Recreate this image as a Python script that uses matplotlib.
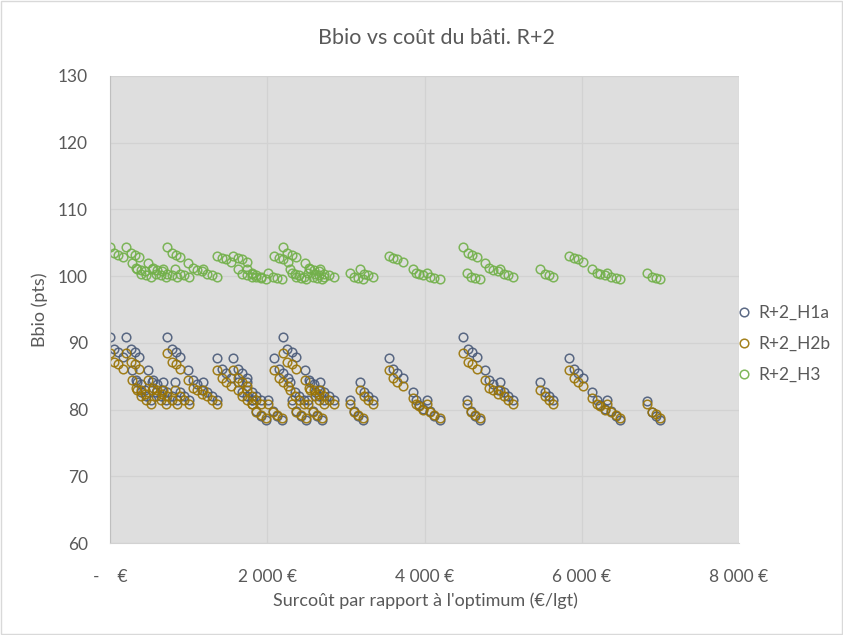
import matplotlib
matplotlib.use("Agg")
import matplotlib.pyplot as plt
from matplotlib.patches import Rectangle

plt.rcParams["font.family"] = ["Lato", "DejaVu Sans"]

# surcoût (€/lgt), one row per group of four variants
surcout = [
    0, 51, 106, 161,
    204, 267, 318, 373,
    276, 333, 389, 450,
    343, 400, 456, 519,
    487, 544, 600, 663,
    534, 591, 647, 710,
    674, 731, 787, 850,
    721, 784, 840, 896,
    827, 884, 940, 1003,
    996, 1053, 1109, 1172,
    1183, 1240, 1296, 1359,
    1365, 1428, 1480, 1541,
    1561, 1624, 1679, 1738,
    1628, 1685, 1741, 1804,
    1743, 1800, 1856, 1919,
    1806, 1863, 1919, 1990,
    2010, 2067, 2123, 2190,
    2086, 2149, 2201, 2262,
    2204, 2255, 2310, 2366,
    2290, 2347, 2403, 2466,
    2315, 2372, 2428, 2495,
    2480, 2537, 2593, 2656,
    2519, 2576, 2632, 2699,
    2544, 2601, 2657, 2720,
    2671, 2728, 2784, 2847,
    3053, 3104, 3159, 3222,
    3180, 3235, 3286, 3350,
    3553, 3604, 3655, 3723,
    3850, 3892, 3934, 3985,
    4028, 4070, 4125, 4198,
    4494, 4550, 4608, 4664,
    4537, 4592, 4643, 4706,
    4770, 4821, 4876, 4932,
    4961, 5016, 5067, 5123,
    5470, 5533, 5584, 5640,
    5843, 5902, 5957, 6013,
    6127, 6194, 6233, 6297,
    6318, 6377, 6436, 6487,
    6827, 6891, 6942, 6996,
]

bbio_h1a = [
    90.9, 89.1, 88.6, 87.9,
    90.9, 89.1, 88.6, 87.9,
    86.0, 84.4, 83.8, 83.0,
    84.2, 82.6, 82.1, 81.5,
    86.0, 84.4, 83.8, 83.0,
    84.2, 82.6, 82.1, 81.5,
    84.2, 82.6, 82.1, 81.5,
    90.9, 89.1, 88.6, 87.9,
    84.2, 82.6, 82.1, 81.5,
    86.0, 84.4, 83.8, 83.0,
    84.2, 82.6, 82.1, 81.5,
    87.7, 86.1, 85.5, 84.7,
    87.7, 86.1, 85.5, 84.7,
    84.2, 82.6, 82.1, 81.5,
    84.2, 82.6, 82.1, 81.5,
    81.4, 79.8, 79.1, 78.4,
    81.4, 79.8, 79.1, 78.4,
    87.7, 86.1, 85.5, 84.7,
    90.9, 89.1, 88.6, 87.9,
    84.2, 82.6, 82.1, 81.5,
    81.4, 79.8, 79.1, 78.4,
    86.0, 84.4, 83.8, 83.0,
    81.4, 79.8, 79.1, 78.4,
    84.2, 82.6, 82.1, 81.5,
    84.2, 82.6, 82.1, 81.5,
    81.4, 79.8, 79.1, 78.4,
    84.2, 82.6, 82.1, 81.5,
    87.7, 86.1, 85.5, 84.7,
    82.7, 81.4, 80.7, 80.1,
    81.4, 79.8, 79.1, 78.4,
    90.9, 89.1, 88.6, 87.9,
    81.4, 79.8, 79.1, 78.4,
    86.0, 84.4, 83.8, 83.0,
    84.2, 82.6, 82.1, 81.5,
    84.2, 82.6, 82.1, 81.5,
    87.7, 86.1, 85.5, 84.7,
    82.7, 81.4, 80.7, 80.1,
    81.4, 79.8, 79.1, 78.4,
    81.3, 79.6, 79.1, 78.4,
]

bbio_h2b = [
    88.5, 87.2, 86.9, 86.1,
    88.5, 87.2, 86.9, 86.1,
    84.5, 83.3, 82.9, 82.4,
    83.0, 82.0, 81.5, 80.8,
    84.5, 83.3, 82.9, 82.4,
    83.0, 82.0, 81.5, 80.8,
    83.0, 82.0, 81.5, 80.8,
    88.5, 87.2, 86.9, 86.1,
    83.0, 82.0, 81.5, 80.8,
    84.5, 83.3, 82.9, 82.4,
    83.0, 82.0, 81.5, 80.8,
    86.0, 84.7, 84.2, 83.6,
    86.0, 84.7, 84.2, 83.6,
    83.0, 82.0, 81.5, 80.8,
    83.0, 82.0, 81.5, 80.8,
    80.8, 79.7, 79.2, 78.8,
    80.8, 79.7, 79.2, 78.8,
    86.0, 84.7, 84.2, 83.6,
    88.5, 87.2, 86.9, 86.1,
    83.0, 82.0, 81.5, 80.8,
    80.8, 79.7, 79.2, 78.8,
    84.5, 83.3, 82.9, 82.4,
    80.8, 79.7, 79.2, 78.8,
    83.0, 82.0, 81.5, 80.8,
    83.0, 82.0, 81.5, 80.8,
    80.8, 79.7, 79.2, 78.8,
    83.0, 82.0, 81.5, 80.8,
    86.0, 84.7, 84.2, 83.6,
    81.8, 80.9, 80.5, 80.0,
    80.8, 79.7, 79.2, 78.8,
    88.5, 87.2, 86.9, 86.1,
    80.8, 79.7, 79.2, 78.8,
    84.5, 83.3, 82.9, 82.4,
    83.0, 82.0, 81.5, 80.8,
    83.0, 82.0, 81.5, 80.8,
    86.0, 84.7, 84.2, 83.6,
    81.8, 80.9, 80.5, 80.0,
    80.8, 79.7, 79.2, 78.8,
    80.8, 79.6, 79.3, 78.8,
]

bbio_h3 = [
    104.3, 103.5, 103.2, 102.9,
    104.3, 103.5, 103.2, 102.9,
    101.9, 101.2, 100.9, 100.7,
    101.0, 100.3, 100.1, 99.85,
    101.9, 101.2, 100.9, 100.7,
    101.0, 100.3, 100.1, 99.85,
    101.0, 100.3, 100.1, 99.85,
    104.3, 103.5, 103.2, 102.9,
    101.0, 100.3, 100.1, 99.85,
    101.9, 101.2, 100.9, 100.7,
    101.0, 100.3, 100.1, 99.85,
    103.0, 102.7, 102.5, 102.1,
    103.0, 102.7, 102.5, 102.1,
    101.0, 100.3, 100.1, 99.85,
    101.0, 100.3, 100.1, 99.85,
    100.4, 99.9, 99.7, 99.55,
    100.4, 99.9, 99.7, 99.55,
    103.0, 102.7, 102.5, 102.1,
    104.3, 103.5, 103.2, 102.9,
    101.0, 100.3, 100.1, 99.85,
    100.4, 99.9, 99.7, 99.55,
    101.9, 101.2, 100.9, 100.7,
    100.4, 99.9, 99.7, 99.55,
    101.0, 100.3, 100.1, 99.85,
    101.0, 100.3, 100.1, 99.85,
    100.4, 99.9, 99.7, 99.55,
    101.0, 100.3, 100.1, 99.85,
    103.0, 102.7, 102.5, 102.1,
    101.0, 100.45, 100.25, 100.2,
    100.4, 99.9, 99.7, 99.55,
    104.3, 103.5, 103.2, 102.9,
    100.4, 99.9, 99.7, 99.55,
    101.9, 101.2, 100.9, 100.7,
    101.0, 100.3, 100.1, 99.85,
    101.0, 100.3, 100.1, 99.85,
    103.0, 102.7, 102.5, 102.1,
    101.0, 100.45, 100.25, 100.2,
    100.4, 99.9, 99.7, 99.55,
    100.4, 99.85, 99.7, 99.55,
]

series_names = ["R+2_H1a", "R+2_H2b", "R+2_H3"]
series_colors = ["#4a5a78", "#9a7405", "#72b04a"]

x_ticks = [0, 2000, 4000, 6000, 8000]
x_tick_labels = ["-    €", "2 000 €", "4 000 €", "6 000 €", "8 000 €"]
y_ticks = [60, 70, 80, 90, 100, 110, 120, 130]

TEXT = "#595959"

fig = plt.figure(figsize=(8.43, 6.35), dpi=100)
fig.patch.set_facecolor("white")
fig.add_artist(Rectangle((0.001, 0.001), 0.998, 0.997, transform=fig.transFigure,
                         fill=False, edgecolor="#d9d9d9", linewidth=1))

ax = fig.add_axes([110 / 843, 1 - 543 / 635, 629 / 843, 467 / 635])
ax.set_facecolor("#dedede")

for vals, name, col in zip([bbio_h1a, bbio_h2b, bbio_h3], series_names, series_colors):
    ax.plot(surcout, vals, linestyle="None", marker="o", markersize=6.2,
            markerfacecolor="none", markeredgecolor=col, markeredgewidth=1.1,
            alpha=0.9, label=name)

ax.set_xlim(0, 8000)
ax.set_ylim(60, 130)
ax.set_xticks(x_ticks)
ax.set_xticklabels(x_tick_labels)
ax.set_yticks(y_ticks)
ax.grid(True, color="#d2d2d2", linewidth=0.9)
ax.set_axisbelow(True)
ax.tick_params(length=0, labelsize=12.5, labelcolor=TEXT)
ax.tick_params(axis="x", pad=19)
ax.tick_params(axis="y", pad=16)
for side in ["top", "right"]:
    ax.spines[side].set_visible(False)
ax.spines["left"].set_color("#bfbfbf")
ax.spines["bottom"].set_color("#d2d2d2")

fig.text(436 / 843, 1 - 38 / 635, "Bbio vs coût du bâti. R+2", ha="center", va="center",
         fontsize=15.5, color=TEXT)
fig.text(40 / 843, 1 - 310 / 635, "Bbio (pts)", rotation=90, ha="center", va="center",
         fontsize=13, color=TEXT)
fig.text(425 / 843, 1 - 601 / 635, "Surcoût par rapport à l'optimum (€/lgt)",
         ha="center", va="center", fontsize=13, color=TEXT)

fig.legend(loc="center left", bbox_to_anchor=(730 / 843, 1 - 344 / 635), frameon=False,
           fontsize=12.5, labelcolor=TEXT, handlelength=0.8, handletextpad=0.45,
           labelspacing=0.85, borderaxespad=0)

fig.savefig("out.png", dpi=100)
